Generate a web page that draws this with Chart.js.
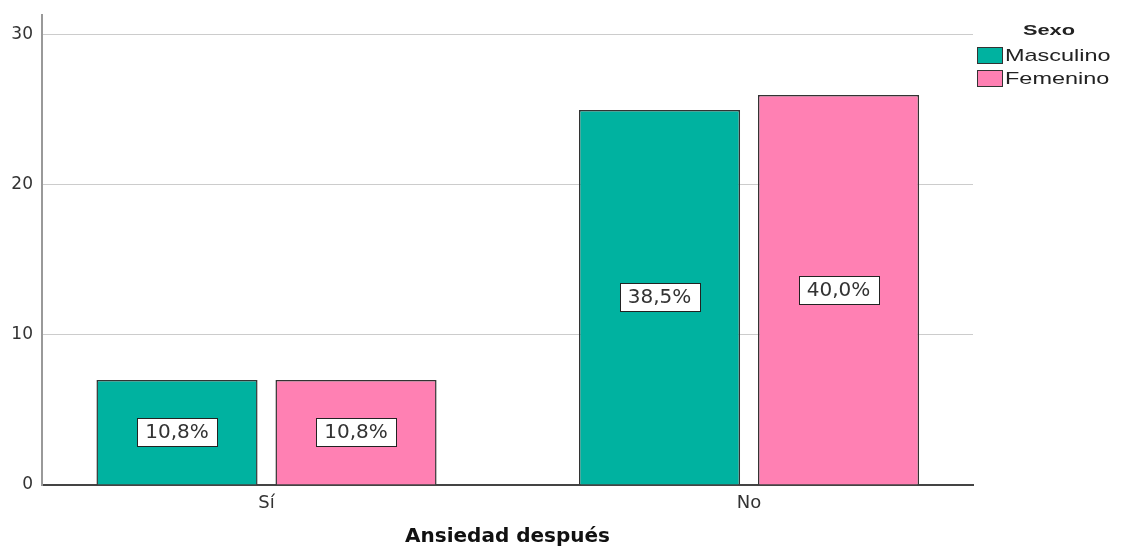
<!DOCTYPE html>
<html>
<head>
<meta charset="utf-8">
<script src="https://cdn.jsdelivr.net/npm/chart.js@4.4.0/dist/chart.umd.min.js"></script>
<style>
  html, body { margin: 0; padding: 0; background: #fff; }
  #contenedor { width: 1129px; height: 547px; position: relative; }
</style>
</head>
<body>
<div id="contenedor"><canvas id="grafico"></canvas></div>
<script>
// Datos
const categorias = ['Sí', 'No'];
const masculino = [7, 25];
const femenino = [7, 26];
const pctMasculino = ['10,8%', '38,5%'];
const pctFemenino = ['10,8%', '40,0%'];
const ticksY = [0, 10, 20, 30];

const colorMasc = '#00b2a0';
const colorFem = '#ff80b3';

// Texto estirado en horizontal (el original está ensanchado)
function textoAncho(ctx, texto, x, y, escala, align) {
  ctx.save();
  ctx.translate(x, y);
  ctx.scale(escala, 1);
  ctx.textAlign = align;
  ctx.fillText(texto, 0, 0);
  ctx.restore();
}

// Etiquetas de porcentaje en el centro de cada barra
const etiquetas = {
  id: 'etiquetas',
  afterDatasetsDraw(chart) {
    const ctx = chart.ctx;
    chart.data.datasets.forEach((ds, i) => {
      const meta = chart.getDatasetMeta(i);
      meta.data.forEach((bar, j) => {
        const texto = ds.porcentajes[j];
        const cy = (bar.y + bar.base) / 2;
        ctx.save();
        ctx.font = '20px "DejaVu Sans"';
        const w = Math.round(ctx.measureText(texto).width + 16);
        const h = 28;
        const x0 = Math.round(bar.x - w / 2);
        const y0 = Math.round(cy - h / 2);
        ctx.fillStyle = '#fff';
        ctx.fillRect(x0, y0, w, h);
        ctx.strokeStyle = '#222';
        ctx.lineWidth = 1;
        ctx.strokeRect(x0 + 0.5, y0 + 0.5, w, h);
        ctx.fillStyle = '#333';
        ctx.textAlign = 'center';
        ctx.textBaseline = 'middle';
        ctx.fillText(texto, bar.x, cy + 1);
        ctx.restore();
      });
    });
  }
};

// Leyenda a la derecha
const leyenda = {
  id: 'leyenda',
  afterDraw(chart) {
    const ctx = chart.ctx;
    ctx.save();
    ctx.fillStyle = '#222';
    ctx.textBaseline = 'middle';
    ctx.font = 'bold 15px "Liberation Sans"';
    textoAncho(ctx, 'Sexo', 1049, 31, 1.45, 'center');
    chart.data.datasets.forEach((ds, i) => {
      const y = 47 + i * 23;
      ctx.fillStyle = ds.backgroundColor;
      ctx.fillRect(977, y, 26, 17);
      ctx.strokeStyle = '#333';
      ctx.lineWidth = 1;
      ctx.strokeRect(977.5, y + 0.5, 25, 16);
      ctx.fillStyle = '#222';
      ctx.font = '17px "Liberation Sans"';
      textoAncho(ctx, ds.label, 1005, y + 9, 1.38, 'left');
    });
    ctx.restore();
  }
};

const grafico = new Chart(document.getElementById('grafico'), {
  type: 'bar',
  data: {
    datasets: [
      {
        label: 'Masculino',
        data: categorias.map((c, i) => ({ x: i, y: masculino[i] })),
        porcentajes: pctMasculino,
        backgroundColor: colorMasc,
        borderColor: '#333',
        borderWidth: 1.5
      },
      {
        label: 'Femenino',
        data: categorias.map((c, i) => ({ x: i, y: femenino[i] })),
        porcentajes: pctFemenino,
        backgroundColor: colorFem,
        borderColor: '#333',
        borderWidth: 1.5
      }
    ]
  },
  options: {
    responsive: true,
    maintainAspectRatio: false,
    animation: false,
    devicePixelRatio: 1,
    categoryPercentage: 0.742,
    barPercentage: 0.9,
    layout: { padding: { top: 15, right: 156, left: 0, bottom: 0 } },
    plugins: {
      legend: { display: false },
      tooltip: { enabled: false }
    },
    scales: {
      x: {
        type: 'linear',
        offset: false,
        min: -0.4653,
        max: 1.4642,
        afterFit(scale) {
          scale.height = 62;
          scale.paddingLeft = 0;
          scale.paddingRight = 0;
        },
        afterBuildTicks(scale) { scale.ticks = categorias.map((c, i) => ({ value: i })); },
        ticks: {
          callback: (v) => categorias[v],
          color: '#333',
          font: { family: 'DejaVu Sans', size: 18 },
          padding: 8,
          maxRotation: 0
        },
        grid: { display: false, drawTicks: false, offset: false },
        border: { display: true, color: '#444', width: 2 },
        title: {
          display: true,
          text: 'Ansiedad después',
          color: '#111',
          font: { family: 'DejaVu Sans', size: 20, weight: 'bold', lineHeight: 1 },
          padding: { top: 0, bottom: 0 }
        }
      },
      y: {
        min: 0,
        max: 31.33,
        afterFit(scale) {
          scale.width = 42;
          scale.paddingTop = 0;
          scale.paddingBottom = 0;
        },
        afterBuildTicks(scale) { scale.ticks = ticksY.map(v => ({ value: v })); },
        ticks: {
          color: '#333',
          font: { family: 'DejaVu Sans', size: 17 },
          padding: 9
        },
        grid: {
          drawTicks: false,
          color: (c) => c.tick && c.tick.value === 0 ? 'rgba(0,0,0,0)' : '#cccccc',
          lineWidth: 1
        },
        border: { display: true, color: '#999', width: 2 }
      }
    }
  },
  plugins: [etiquetas, leyenda]
});
</script>
</body>
</html>
